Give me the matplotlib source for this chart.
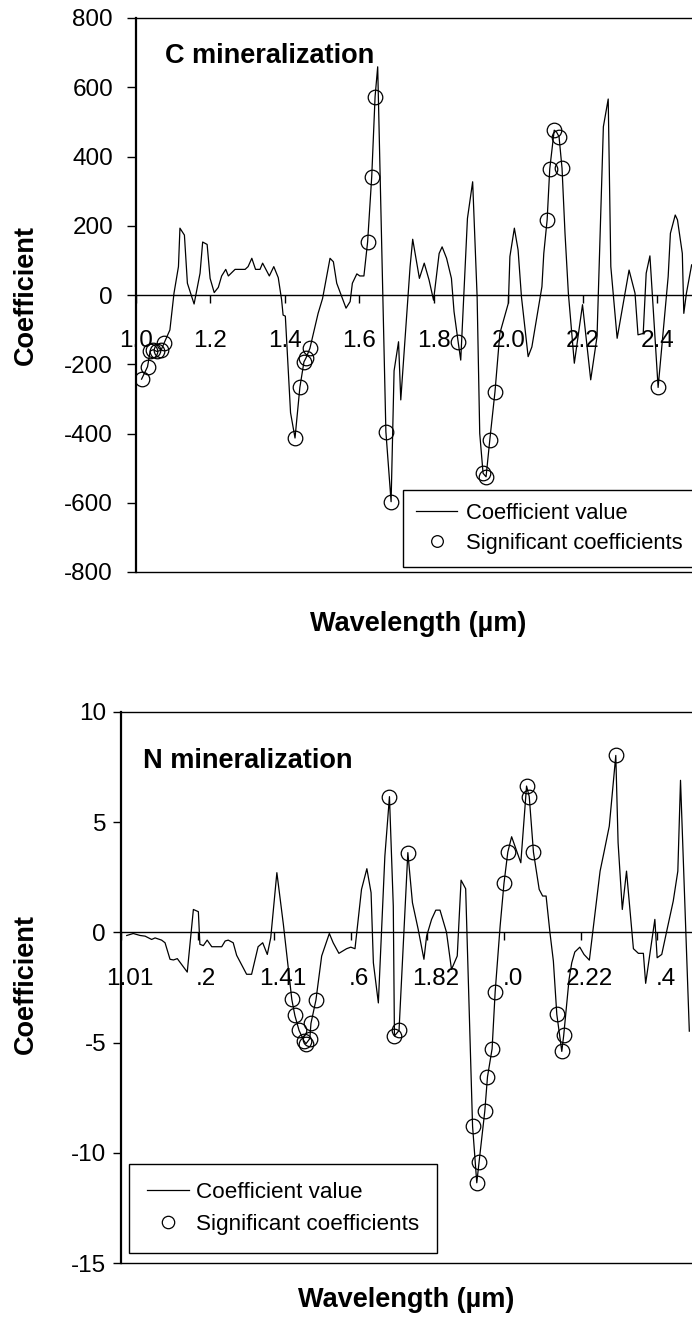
"""
Wavelet/PLS coefficient spectra for C and N mineralization.
"""
import matplotlib
matplotlib.use('Agg')
import matplotlib.pyplot as plt
from matplotlib.lines import Line2D
from matplotlib.transforms import ScaledTranslation

plt.rcParams['font.family'] = ['Liberation Sans', 'DejaVu Sans']
plt.rcParams['axes.unicode_minus'] = False

# ---- C mineralization (top panel) ----
c_wl = [1.015, 1.031, 1.038, 1.046, 1.056, 1.067, 1.075, 1.091, 1.102, 1.114,
        1.118, 1.130, 1.138, 1.156, 1.172, 1.179, 1.191, 1.199, 1.210, 1.221,
        1.230, 1.241, 1.248, 1.266, 1.293, 1.301, 1.311, 1.321, 1.333, 1.340,
        1.358, 1.370, 1.382, 1.391, 1.395, 1.401, 1.415, 1.427, 1.440, 1.451,
        1.456, 1.467, 1.489, 1.501, 1.521, 1.530, 1.539, 1.564, 1.575, 1.581,
        1.593, 1.601, 1.612, 1.622, 1.633, 1.642, 1.649, 1.671, 1.685, 1.693,
        1.705, 1.711, 1.736, 1.743, 1.761, 1.774, 1.787, 1.799, 1.814, 1.822,
        1.834, 1.847, 1.854, 1.865, 1.872, 1.890, 1.904, 1.916, 1.923, 1.932,
        1.940, 1.950, 1.964, 1.977, 2.000, 2.004, 2.016, 2.026, 2.035, 2.053,
        2.063, 2.090, 2.095, 2.104, 2.111, 2.123, 2.129, 2.136, 2.144, 2.152,
        2.161, 2.177, 2.199, 2.221, 2.238, 2.255, 2.268, 2.275, 2.292, 2.324,
        2.340, 2.348, 2.362, 2.370, 2.380, 2.402, 2.429, 2.435, 2.448, 2.454,
        2.467, 2.471, 2.478, 2.492]
c_coef = [-243, -207, -162, -158, -163, -160, -140, -101, 5, 82,
          193, 173, 34, -26, 63, 153, 146, 48, 7, 22,
          55, 74, 55, 74, 74, 82, 106, 74, 74, 92,
          55, 82, 50, -14, -58, -61, -340, -413, -267, -193,
          -183, -154, -53, -10, 106, 96, 34, -38, -19, 34,
          61, 55, 55, 154, 342, 573, 659, -395, -597, -219,
          -135, -303, 82, 161, 48, 92, 43, -15, 120, 139,
          106, 48, -48, -135, -188, 221, 327, -5, -400, -515,
          -525, -419, -279, -111, -23, 111, 193, 130, -5, -178,
          -150, 24, 120, 217, 364, 476, 471, 457, 366, 178,
          5, -197, -28, -245, -120, 486, 566, 82, -125, 72,
          5, -115, -111, 63, 113, -267, 53, 178, 231, 217,
          120, -53, 5, 87]
c_sig_wl = [1.015, 1.031, 1.038, 1.046, 1.056, 1.067, 1.075, 1.427, 1.440, 1.451,
            1.456, 1.467, 1.622, 1.633, 1.642, 1.671, 1.685, 1.865, 1.932, 1.940,
            1.950, 1.964, 2.104, 2.111, 2.123, 2.136, 2.144, 2.402]
c_sig = [-243, -207, -162, -158, -163, -160, -140, -413, -267, -193,
         -183, -154, 154, 342, 573, -395, -597, -135, -515, -525,
         -419, -279, 217, 364, 476, 457, 366, -267]
c_xticks = [1.0, 1.2, 1.4, 1.6, 1.8, 2.0, 2.2, 2.4]
c_xlabels = ['1.0', '1.2', '1.4', '1.6', '1.8', '2.0', '2.2', '2.4']
c_yticks = [-800, -600, -400, -200, 0, 200, 400, 600, 800]

# ---- N mineralization (bottom panel) ----
n_wl = [1.025, 1.042, 1.060, 1.073, 1.090, 1.099, 1.116, 1.125, 1.138, 1.147,
        1.157, 1.183, 1.199, 1.212, 1.216, 1.225, 1.235, 1.247, 1.273, 1.282,
        1.290, 1.303, 1.312, 1.338, 1.351, 1.368, 1.380, 1.392, 1.401, 1.417,
        1.434, 1.456, 1.464, 1.475, 1.488, 1.493, 1.503, 1.506, 1.519, 1.534,
        1.554, 1.564, 1.579, 1.599, 1.610, 1.621, 1.638, 1.652, 1.663, 1.669,
        1.682, 1.699, 1.711, 1.721, 1.724, 1.736, 1.759, 1.771, 1.786, 1.801,
        1.808, 1.821, 1.832, 1.843, 1.860, 1.873, 1.888, 1.898, 1.910, 1.928,
        1.939, 1.945, 1.960, 1.967, 1.979, 1.987, 2.000, 2.010, 2.020, 2.030,
        2.054, 2.069, 2.076, 2.087, 2.102, 2.111, 2.120, 2.130, 2.139, 2.148,
        2.161, 2.166, 2.180, 2.187, 2.195, 2.208, 2.219, 2.233, 2.261, 2.271,
        2.285, 2.302, 2.308, 2.319, 2.330, 2.348, 2.361, 2.374, 2.380, 2.404,
        2.410, 2.422, 2.436, 2.452, 2.464, 2.471, 2.494]
n_coef = [-0.14, -0.05, -0.14, -0.17, -0.32, -0.25, -0.35, -0.47, -1.22, -1.25,
          -1.19, -1.8, 1.04, 0.94, -0.54, -0.6, -0.35, -0.65, -0.65, -0.39,
          -0.35, -0.47, -1.04, -1.9, -1.9, -0.65, -0.47, -1.0, -0.24, 2.71,
          0.36, -3.04, -3.77, -4.45, -4.93, -5.05, -4.82, -4.13, -3.07, -1.07,
          -0.05, -0.47, -0.95, -0.74, -0.67, -0.74, 1.95, 2.89, 1.8, -1.38,
          -3.2, 3.46, 6.16, 1.19, -4.7, -4.45, 3.62, 1.35, 0.14, -1.22,
          -0.17, 0.59, 1.01, 1.01, 0.0, -1.68, -1.07, 2.37, 1.98, -8.79,
          -11.36, -10.42, -8.1, -6.55, -5.28, -2.7, 0.29, 2.22, 3.64, 4.34,
          3.16, 6.64, 6.16, 3.64, 1.95, 1.65, 1.65, 0.0, -1.3, -3.72,
          -5.4, -4.67, -2.13, -1.38, -0.89, -0.67, -1.0, -1.26, 2.78, 3.62,
          4.82, 8.03, 4.07, 1.04, 2.78, -0.74, -0.95, -0.95, -2.31, 0.59,
          -1.15, -1.0, 0.14, 1.42, 2.78, 6.9, -4.48]
n_sig_wl = [1.456, 1.464, 1.475, 1.488, 1.493, 1.503, 1.506, 1.519, 1.711, 1.724,
            1.736, 1.759, 1.928, 1.939, 1.945, 1.960, 1.967, 1.979, 1.987, 2.010,
            2.020, 2.069, 2.076, 2.087, 2.148, 2.161, 2.166, 2.302]
n_sig = [-3.04, -3.77, -4.45, -4.93, -5.05, -4.82, -4.13, -3.07, 6.16, -4.7,
         -4.45, 3.62, -8.79, -11.36, -10.42, -8.1, -6.55, -5.28, -2.7, 2.22,
         3.64, 6.64, 6.16, 3.64, -3.72, -5.4, -4.67, 8.03]
n_xticks = [1.01, 1.21, 1.41, 1.61, 1.81, 2.01, 2.21, 2.41]
n_xlabels = ['1.01', '.2', '1.41', '.6', '1.82', '.0', '2.22', '.4']
n_yticks = [-15, -10, -5, 0, 5, 10]

W, H = 692, 1329
fig = plt.figure(figsize=(W / 100, H / 100), dpi=100)


def panel(rect, wl, coef, sig_wl, sig, xlim, ylim, xticks, xlabels, yticks,
          ytick_len, ytick_pad, label_shift):
    l, t, r, b = rect
    ax = fig.add_axes([l / W, 1 - b / H, (r - l) / W, (b - t) / H])
    ax.plot(wl, coef, color='black', lw=0.9)
    ax.plot(sig_wl, sig, 'o', ms=10.5, mfc='none', mec='black', mew=0.9)
    ax.set_xlim(*xlim)
    ax.set_ylim(*ylim)

    ax.spines['right'].set_visible(False)
    ax.spines['bottom'].set_position(('data', 0))
    ax.spines['bottom'].set_linewidth(1.0)
    ax.spines['top'].set_linewidth(1.0)
    ax.spines['left'].set_linewidth(1.6)
    ax.axhline(ylim[0], color='black', lw=1.0, clip_on=False)

    ax.set_xticks(xticks)
    ax.set_xticklabels(xlabels)
    ax.set_yticks(yticks)
    ax.tick_params(axis='x', direction='out', length=6, width=1.0,
                   pad=19.5, labelsize=17.5)
    ax.tick_params(axis='y', direction='out', length=ytick_len, width=1.0,
                   pad=ytick_pad, labelsize=17.5)
    if label_shift:
        off = ScaledTranslation(label_shift / 100, 0, fig.dpi_scale_trans)
        for lab in ax.get_xticklabels():
            lab.set_transform(lab.get_transform() + off)
    return ax


ax1 = panel((136, 18, 692, 572), c_wl, c_coef, c_sig_wl, c_sig,
            (1.0, 2.493), (-800, 800), c_xticks, c_xlabels, c_yticks,
            6.5, 10, 0)
ax2 = panel((121, 712, 692, 1263), n_wl, n_coef, n_sig_wl, n_sig,
            (1.01, 2.501), (-15, 10), n_xticks, n_xlabels, n_yticks,
            5.8, 5, 8.5)

handles = [Line2D([], [], color='black', lw=0.9),
           Line2D([], [], ls='none', marker='o', ms=10.5, mfc='none',
                  mec='black', mew=0.9)]
names = ['Coefficient value', 'Significant coefficients']

leg1 = ax1.legend(handles, names, loc='lower left',
                  bbox_to_anchor=(403 / W, 1 - 567 / H),
                  bbox_transform=fig.transFigure, borderaxespad=0,
                  fontsize=15.8, frameon=True, fancybox=False,
                  edgecolor='black', framealpha=1, handlelength=1.86,
                  handletextpad=0.4, borderpad=0.6, labelspacing=0.4,
                  markerscale=0.8)
leg1.get_frame().set_linewidth(1.0)

leg2 = ax2.legend(handles, names, loc='lower left',
                  bbox_to_anchor=(129 / W, 1 - 1253 / H),
                  bbox_transform=fig.transFigure, borderaxespad=0,
                  fontsize=16.2, frameon=True, fancybox=False,
                  edgecolor='black', framealpha=1, handlelength=1.85,
                  handletextpad=0.32, borderpad=0.8, labelspacing=0.5,
                  markerscale=0.85)
leg2.get_frame().set_linewidth(1.0)

bold = dict(fontsize=19.5, fontweight='bold')
fig.text(165 / W, 1 - 56 / H, 'C mineralization', ha='left', va='center', **bold)
fig.text(143 / W, 1 - 761 / H, 'N mineralization', ha='left', va='center', **bold)
fig.text(26 / W, 1 - 295 / H, 'Coefficient', rotation=90, ha='center', va='center', **bold)
fig.text(26 / W, 1 - 984 / H, 'Coefficient', rotation=90, ha='center', va='center', **bold)
fig.text(418 / W, 1 - 624 / H, 'Wavelength (µm)', ha='center', va='center', **bold)
fig.text(406 / W, 1 - 1300 / H, 'Wavelength (µm)', ha='center', va='center', **bold)

fig.savefig('out.png', dpi=100)
